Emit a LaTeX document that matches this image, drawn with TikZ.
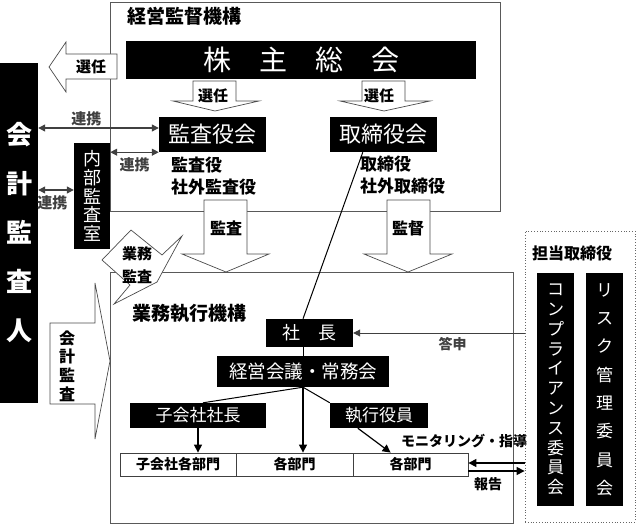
\documentclass[tikz,border=0pt]{standalone}
\usepackage{fontspec}
\setmainfont{Noto Sans CJK JP}
\usetikzlibrary{arrows.meta}
\newcommand{\pts}[1]{\fontsize{#1}{#1}\selectfont}
\tikzset{
    blackbox/.style={fill=black,text=white,inner sep=0pt},
    whitebox/.style={draw=black!75,fill=white,inner sep=0pt,line width=0.8pt},
    frame/.style={draw=black!65,line width=0.8pt,inner sep=0pt},
    fatarrow/.style={draw=black!70,fill=white,line width=0.7pt},
    lab/.style={inner sep=1pt,font=\pts{15}\bfseries},
    link/.style={black!75,line width=1.2pt,{Triangle[length=7pt,width=7pt]}-{Triangle[length=7pt,width=7pt]}},
    feed/.style={black,line width=1.2pt,-{Triangle[length=8pt,width=8pt]}},
    answer/.style={black!75,line width=0.9pt,-{Triangle[length=7pt,width=7pt]}},
    plain/.style={black,line width=1pt}
}
\begin{document}
\begin{tikzpicture}[x=1pt,y=-1pt]
                \useasboundingbox (0,0) rectangle (637,524);

                \node[frame,minimum width=390pt,minimum height=209pt] (topframe) at (305,106.5) {};
                \node[frame,minimum width=403pt,minimum height=251pt] (bottomframe) at (311.5,397.5) {};
                \node[draw=black!60,dotted,line width=0.8pt,minimum width=110pt,minimum height=291pt] (tanto) at (580,376.5) {};

                \node[anchor=west,inner sep=0pt,font=\pts{19}\bfseries] (toptitle) at (127,16) {経営監督機構};
                \node[anchor=west,inner sep=0pt,font=\pts{19}\bfseries] (bottomtitle) at (132,313) {業務執行機構};
                \node[anchor=west,inner sep=0pt,font=\pts{16}\bfseries] (tantotitle) at (532,253) {担当取締役};

                \draw[fatarrow] (117,54) -- (66,54) -- (66,42) -- (49,67) -- (66,92) -- (66,79) -- (117,79) -- cycle;
                \node[lab] (senninleft) at (91,67) {選任};
                \draw[fatarrow] (193,81) -- (236,81) -- (236,101) -- (259,101) -- (215,111) -- (173,101) -- (193,101) -- cycle;
                \node[lab] (sennin1) at (213,96) {選任};
                \draw[fatarrow] (362,81) -- (405,81) -- (405,101) -- (430,101) -- (384,111) -- (340,101) -- (362,101) -- cycle;
                \node[lab] (sennin2) at (379,96) {選任};
                \draw[fatarrow] (204,200) -- (247,200) -- (247,254) -- (269,254) -- (226,272) -- (182,254) -- (204,254) -- cycle;
                \node[lab,font=\pts{16}\bfseries] (kansa) at (226,228) {監査};
                \draw[fatarrow] (387,200) -- (430,200) -- (430,254) -- (452,254) -- (408,272) -- (364,254) -- (387,254) -- cycle;
                \node[lab,font=\pts{16}\bfseries] (kantoku) at (408,228) {監督};
                \draw[fatarrow] (50,323) -- (95,323) -- (95,283) -- (110,361) -- (95,439) -- (95,404) -- (50,404) -- cycle;
                \node[lab,align=center,font=\fontsize{16}{18.7}\selectfont\bfseries] (kaikeikansa) at (67,366) {会\\計\\監\\査};
                \draw[fatarrow] (131,230) -- (162,255) -- (182,236) -- (157,282) -- (114,304) -- (130,285) -- (102,260) -- cycle;
                \node[lab,align=center,font=\fontsize{15}{23}\selectfont\bfseries] (gyomukansa) at (137,265) {業務\\監査};

                \node[blackbox,minimum width=350pt,minimum height=38pt,font=\pts{28}] (soukai) at (301,60) {株　主　総　会};
                \node[blackbox,minimum width=107pt,minimum height=35pt,font=\pts{22}] (kansayakukai) at (212.5,134.5) {監査役会};
                \node[blackbox,minimum width=107pt,minimum height=35pt,font=\pts{22}] (torishimariyakukai) at (383.5,134.5) {取締役会};
                \node[blackbox,minimum width=38pt,minimum height=340pt,align=center,font=\fontsize{26}{49}\selectfont\bfseries] (kaikei) at (19,233) {会\\計\\監\\査\\人};
                \node[blackbox,minimum width=36pt,minimum height=106pt,align=center,font=\fontsize{18}{18.7}\selectfont] (naibu) at (92,196) {内\\部\\監\\査\\室};
                \node[anchor=west,align=left,inner sep=0pt,font=\fontsize{17}{22.5}\selectfont\bfseries] (kansamembers) at (171,176) {監査役\\社外監査役};
                \node[anchor=west,align=left,inner sep=0pt,font=\fontsize{17}{22.5}\selectfont\bfseries] (torimembers) at (360,175) {取締役\\社外取締役};

                \node[blackbox,minimum width=87pt,minimum height=28pt,font=\pts{18}] (shacho) at (309.5,333) {社　長};
                \node[blackbox,minimum width=172pt,minimum height=31pt,font=\pts{18.5}] (keiei) at (303,371.5) {経営会議・常務会};
                \node[blackbox,minimum width=136pt,minimum height=25pt,font=\pts{17}] (kogaisha) at (198,415.5) {子会社社長};
                \node[blackbox,minimum width=98pt,minimum height=25pt,font=\pts{17}] (shikko) at (379,415.5) {執行役員};
                \node[whitebox,minimum width=116pt,minimum height=23pt,font=\pts{14}\bfseries] (dept1) at (178,464.5) {子会社各部門};
                \node[whitebox,minimum width=117pt,minimum height=23pt,font=\pts{14}\bfseries] (dept2) at (294.5,464.5) {各部門};
                \node[whitebox,minimum width=115pt,minimum height=23pt,font=\pts{14}\bfseries] (dept3) at (410.5,464.5) {各部門};
                \node[blackbox,minimum width=37pt,minimum height=233pt,align=center,font=\fontsize{17}{19.8}\selectfont] (compliance) at (555.5,389.5) {コ\\ン\\プ\\ラ\\イ\\ア\\ン\\ス\\委\\員\\会};
                \node[blackbox,minimum width=37pt,minimum height=233pt,align=center,font=\fontsize{17}{28.3}\selectfont] (risk) at (604.5,389.5) {リ\\ス\\ク\\管\\理\\委\\員\\会};

                \coordinate (k1) at ([yshift=6.5pt]kansayakukai.west);
                \coordinate (k2) at ([yshift=6pt]naibu.west);
                \path [link] (k1 -| kaikei.east) edge node[lab,above,pos=0.4] {連携} (k1);
                \path [link] (kansayakukai.south west -| naibu.east) edge node[lab,below=4pt] {連携} (kansayakukai.south west);
                \path [link] (k2 -| kaikei.east) edge node[lab,below=4pt,pos=0.4] {連携} (k2);

                \path [plain] ([xshift=33pt]torishimariyakukai.south west) edge (shacho.north -| keiei.north);
                \path [plain] (shacho.south -| keiei.north) edge (keiei.north);
                \path [feed] (keiei.south) edge (keiei.south |- dept2.north);
                \path [plain] (keiei.south) edge ([xshift=5pt]kogaisha.north);
                \path [plain] (keiei.south) edge (shikko.north west);
                \path [feed] (kogaisha.south) edge (kogaisha.south |- dept1.north);
                \path [feed] ([xshift=28pt]shikko.south west) edge ([xshift=38pt]dept3.north west);

                \path [answer] (tanto.west |- shacho.east) edge node[lab,font=\pts{14}\bfseries,below=3pt,pos=0.42] {答申} (shacho.east);
                \coordinate (m1) at ([yshift=1.5pt]dept3.east);
                \coordinate (m2) at ([yshift=-6.5pt]dept3.east);
                \path [feed] (m1 -| tanto.west) edge (m1);
                \path [feed] (m2) edge node[lab,font=\pts{14}\bfseries,below=5pt,pos=0.35] {報告} (m2 -| tanto.west);
                \node[lab,font=\pts{14}\bfseries] (monitoring) at (464,441) {モニタリング・指導};
\end{tikzpicture}
\end{document}
